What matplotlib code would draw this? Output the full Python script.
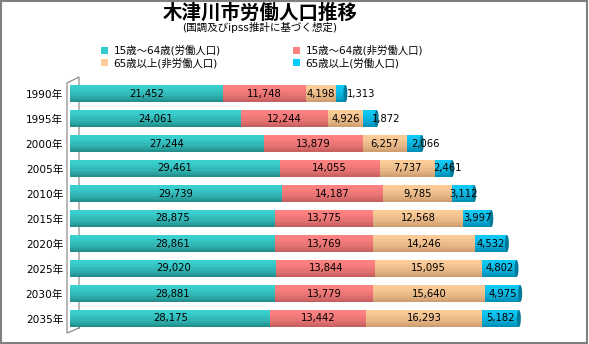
import matplotlib
matplotlib.use("Agg")
import matplotlib.pyplot as plt
import numpy as np
from matplotlib.patches import Patch, Rectangle, Ellipse
from matplotlib.lines import Line2D
from matplotlib.colors import to_rgb

plt.rcParams['font.family'] = ['DejaVu Sans', 'Noto Sans CJK JP']

years = ['1990年', '1995年', '2000年', '2005年', '2010年',
         '2015年', '2020年', '2025年', '2030年', '2035年']
work_15_64 = [21452, 24061, 27244, 29461, 29739, 28875, 28861, 29020, 28881, 28175]
nonwork_15_64 = [11748, 12244, 13879, 14055, 14187, 13775, 13769, 13844, 13779, 13442]
nonwork_65 = [4198, 4926, 6257, 7737, 9785, 12568, 14246, 15095, 15640, 16293]
work_65 = [1313, 1872, 2066, 2461, 3112, 3997, 4532, 4802, 4975, 5182]

series_names = ['15歳～64歳(労働人口)', '15歳～64歳(非労働人口)',
                '65歳以上(非労働人口)', '65歳以上(労働人口)']
series = [work_15_64, nonwork_15_64, nonwork_65, work_65]
# (legend colour, top shade, bottom shade)
colors = [('#33CCCC', '#3ad0d0', '#23908f'),
          ('#FF8080', '#ff8282', '#c86060'),
          ('#FFCC99', '#fbcb98', '#cf9f72'),
          ('#00CCFF', '#10c8f5', '#0090b8')]

W, H = 589, 344
fig = plt.figure(figsize=(W / 100, H / 100), dpi=100)
ax = fig.add_axes([70 / W, 13 / H, 498 / W, 250 / H])

y = np.arange(len(years))
h = 0.68
nstrip = 8


def mix(c1, c2, t):
    a, b = np.array(to_rgb(c1)), np.array(to_rgb(c2))
    return tuple(a + (b - a) * t)


left = np.zeros(len(years))
texts = []
for vals, (_, top, bot) in zip(series, colors):
    vals = np.array(vals, dtype=float)
    for s in range(nstrip):
        t = (s / (nstrip - 1)) ** 1.6
        yc = y - h / 2 + (s + 0.5) * h / nstrip
        ax.barh(yc, vals, left=left, height=h / nstrip * 1.05,
                color=mix(top, bot, t), edgecolor='none', linewidth=0, zorder=3)
    row = []
    for i, v in enumerate(vals):
        row.append(ax.text(left[i] + v / 2, y[i], f'{int(v):,}', ha='center',
                           va='center', fontsize=7.2, color='black', zorder=6))
    texts.append(row)
    left += vals

# end caps of the cylinders
for i in range(len(years)):
    ax.add_patch(Ellipse((left[i], y[i]), 560, h, facecolor='#007a99',
                         edgecolor='none', zorder=4))

ax.set_xlim(0, 70000)
ax.set_ylim(len(years) - 0.5, -0.5)
ax.set_yticks(y)
ax.set_yticklabels(years, fontsize=7.6)
ax.tick_params(axis='y', length=0, pad=5)
ax.set_xticks([])
for sp in ax.spines.values():
    sp.set_visible(False)
ax.patch.set_alpha(0)

# 3D side wall
wx = np.array([79, 79, 67, 67, 79]) / W
wy = 1 - np.array([328, 77, 83, 333, 328]) / H
ax.add_line(Line2D(wx, wy, transform=fig.transFigure, color='#808080',
                   lw=0.8, clip_on=False, zorder=1))

fig.text(260 / W, 1 - 13 / H, '木津川市労働人口推移', ha='center', va='center',
         fontsize=14, fontweight='bold', family='Noto Sans CJK JP')
fig.text(260 / W, 1 - 27 / H, '(国調及びipss推計に基づく想定)', ha='center',
         va='center', fontsize=7.6)

order = [0, 2, 1, 3]
handles = [Patch(facecolor=colors[k][0], edgecolor='none') for k in order]
fig.legend(handles, [series_names[k] for k in order], ncol=2,
           loc='center left', bbox_to_anchor=(92 / W, 1 - 57 / H),
           frameon=False, fontsize=7.5, handlelength=0.65, handleheight=0.65,
           handletextpad=0.5, columnspacing=7.0, labelspacing=0.2)

fig.add_artist(Rectangle((0.002, 0.003), 0.994, 0.994, transform=fig.transFigure,
                         fill=False, edgecolor='#808080', lw=1.5))

# push labels right when they would run into the previous one
fig.canvas.draw()
r = fig.canvas.get_renderer()
px_per_unit = ax.transData.transform((1, 0))[0] - ax.transData.transform((0, 0))[0]
for i in range(len(years)):
    prev_end = None
    for s in range(len(series)):
        t = texts[s][i]
        bb = t.get_window_extent(r)
        if prev_end is not None and bb.x0 < prev_end + 12:
            dx = prev_end + 12 - bb.x0
            x0, y0 = t.get_position()
            t.set_x(x0 + dx / px_per_unit)
            prev_end = bb.x1 + dx
        else:
            prev_end = bb.x1

fig.savefig('out.png', dpi=100)
